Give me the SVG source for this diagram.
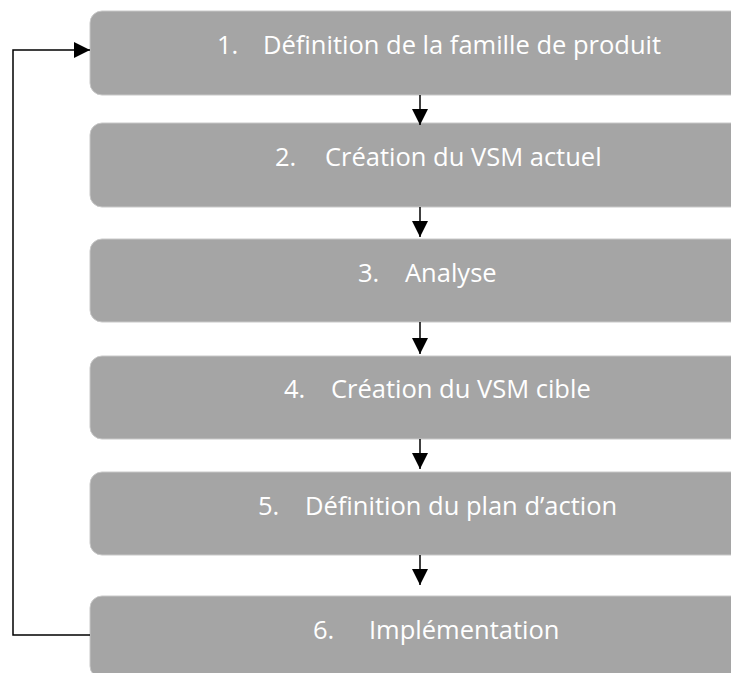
<svg xmlns="http://www.w3.org/2000/svg" width="731" height="673" viewBox="0 0 731 673">
<style>
.box{fill:#A5A5A5;stroke:#C8C8C8;stroke-width:1}
.t{font-family:"Open Sans","Liberation Sans",sans-serif;font-size:25.5px;fill:#FFFFFF}
.c{stroke:#000;stroke-width:1.5;fill:none}
</style>
<defs>
<marker id="ah" markerWidth="16" markerHeight="16" viewBox="0 0 16 16" refX="16" refY="8" orient="auto" markerUnits="userSpaceOnUse">
<path d="M0,0 L16,8 L0,16 Z" fill="#000"/>
</marker>
</defs>
<rect width="731" height="673" fill="#fff"/>
<g id="n1"><rect class="box" x="90" y="11" width="660" height="84" rx="12"/><text class="t" y="54"><tspan x="217">1.</tspan><tspan x="263">Définition de la famille de produit</tspan></text></g>
<g id="n2"><rect class="box" x="90" y="123" width="660" height="84" rx="12"/><text class="t" y="166"><tspan x="275">2.</tspan><tspan x="325">Création du VSM actuel</tspan></text></g>
<g id="n3"><rect class="box" x="90" y="239" width="660" height="83" rx="12"/><text class="t" y="282"><tspan x="358">3.</tspan><tspan x="405">Analyse</tspan></text></g>
<g id="n4"><rect class="box" x="90" y="356" width="660" height="83" rx="12"/><text class="t" y="398"><tspan x="284">4.</tspan><tspan x="331">Création du VSM cible</tspan></text></g>
<g id="n5"><rect class="box" x="90" y="472" width="660" height="83" rx="12"/><text class="t" y="515"><tspan x="258">5.</tspan><tspan x="305">Définition du plan d’action</tspan></text></g>
<g id="n6"><rect class="box" x="90" y="596" width="660" height="82" rx="12"/><text class="t" y="639"><tspan x="313">6.</tspan><tspan x="369">Implémentation</tspan></text></g>
<g id="connectors">
<line class="c" x1="420" y1="95" x2="420" y2="125" marker-end="url(#ah)"/>
<line class="c" x1="420" y1="207" x2="420" y2="237" marker-end="url(#ah)"/>
<line class="c" x1="420" y1="322" x2="420" y2="354" marker-end="url(#ah)"/>
<line class="c" x1="420" y1="439" x2="420" y2="469" marker-end="url(#ah)"/>
<line class="c" x1="420" y1="555" x2="420" y2="585" marker-end="url(#ah)"/>
<polyline class="c" points="90,635 13,635 13,50 90,50" marker-end="url(#ah)"/>
</g>
</svg>
